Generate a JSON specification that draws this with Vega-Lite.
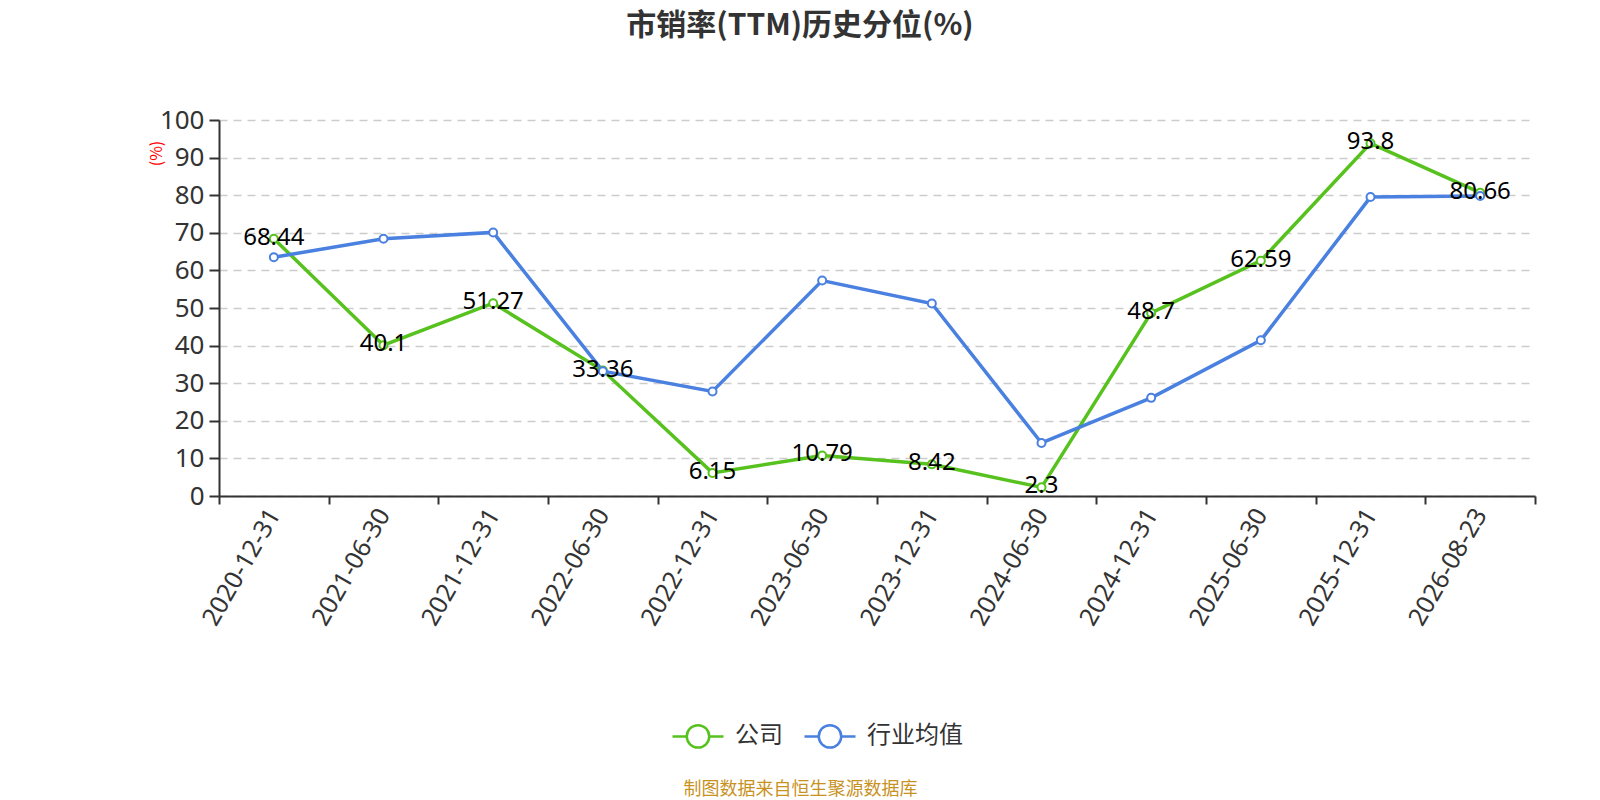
{
  "$schema": "https://vega.github.io/schema/vega-lite/v6.json",
  "autosize": "none",
  "width": 1316,
  "height": 376,
  "padding": {"left": 219, "top": 120, "right": 65, "bottom": 304},
  "background": "white",
  "config": {
    "font": "Noto Sans CJK SC",
    "view": {"stroke": null}
  },
  "title": {
    "text": "市销率(TTM)历史分位(%)",
    "fontSize": 30,
    "fontWeight": "bold",
    "color": "#333333",
    "anchor": "middle",
    "dx": -77,
    "offset": 66
  },
  "data": {
    "values": [
      {"date": "2020-12-31", "series": "公司", "value": 68.44},
      {"date": "2021-06-30", "series": "公司", "value": 40.1},
      {"date": "2021-12-31", "series": "公司", "value": 51.27},
      {"date": "2022-06-30", "series": "公司", "value": 33.36},
      {"date": "2022-12-31", "series": "公司", "value": 6.15},
      {"date": "2023-06-30", "series": "公司", "value": 10.79},
      {"date": "2023-12-31", "series": "公司", "value": 8.42},
      {"date": "2024-06-30", "series": "公司", "value": 2.3},
      {"date": "2024-12-31", "series": "公司", "value": 48.7},
      {"date": "2025-06-30", "series": "公司", "value": 62.59},
      {"date": "2025-12-31", "series": "公司", "value": 93.8},
      {"date": "2026-08-23", "series": "公司", "value": 80.66},
      {"date": "2020-12-31", "series": "行业均值", "value": 63.5},
      {"date": "2021-06-30", "series": "行业均值", "value": 68.4},
      {"date": "2021-12-31", "series": "行业均值", "value": 70.1},
      {"date": "2022-06-30", "series": "行业均值", "value": 33.2},
      {"date": "2022-12-31", "series": "行业均值", "value": 27.8},
      {"date": "2023-06-30", "series": "行业均值", "value": 57.3},
      {"date": "2023-12-31", "series": "行业均值", "value": 51.2},
      {"date": "2024-06-30", "series": "行业均值", "value": 14.1},
      {"date": "2024-12-31", "series": "行业均值", "value": 26.1},
      {"date": "2025-06-30", "series": "行业均值", "value": 41.4},
      {"date": "2025-12-31", "series": "行业均值", "value": 79.5},
      {"date": "2026-08-23", "series": "行业均值", "value": 79.8}
    ]
  },
  "encoding": {
    "x": {
      "field": "date",
      "type": "ordinal",
      "scale": {"type": "band", "paddingInner": 0, "paddingOuter": 0},
      "axis": {
        "title": "制图数据来自恒生聚源数据库",
        "titleColor": "#c8921f",
        "titleFontSize": 18,
        "titleFontWeight": "normal",
        "titleX": 581,
        "titleY": 293,
        "titleAnchor": "middle",
        "titleBaseline": "middle",
        "labelAngle": -60,
        "labelFont": "Noto Sans",
        "labelFontSize": 25,
        "labelColor": "#333333",
        "labelPadding": 6,
        "labelOverlap": false,
        "domainColor": "#333333",
        "domainWidth": 2,
        "tickColor": "#333333",
        "tickWidth": 2,
        "tickSize": 8,
        "tickBand": "extent",
        "grid": false
      }
    },
    "y": {
      "field": "value",
      "type": "quantitative",
      "scale": {"domain": [0, 100], "nice": false},
      "axis": {
        "title": "(%)",
        "titleColor": "red",
        "titleFontSize": 16,
        "titleFontWeight": "normal",
        "titleX": -63,
        "titleY": 33,
        "titleAngle": -90,
        "titleAnchor": "middle",
        "titleBaseline": "middle",
        "values": [0, 10, 20, 30, 40, 50, 60, 70, 80, 90, 100],
        "labelOverlap": false,
        "labelFont": "Noto Sans",
        "labelFontSize": 26,
        "labelColor": "#333333",
        "labelPadding": 5,
        "domainColor": "#333333",
        "domainWidth": 2,
        "tickColor": "#333333",
        "tickWidth": 2,
        "tickSize": 10,
        "gridColor": "#cccccc",
        "gridDash": [8, 6],
        "gridWidth": 1.5
      }
    }
  },
  "layer": [
    {
      "mark": {"type": "line", "strokeWidth": 3.5},
      "encoding": {
        "color": {
          "field": "series",
          "type": "nominal",
          "scale": {"domain": ["公司", "行业均值"], "range": ["#57c21e", "#4a80e0"]},
          "legend": {
            "title": null,
            "orient": "none",
            "legendX": 452,
            "legendY": 589,
            "direction": "horizontal",
            "columns": 2,
            "columnPadding": 16,
            "labelFontSize": 24,
            "labelColor": "#333333",
            "labelOffset": 10,
            "symbolType": "M-1,0H-0.44A0.44,0.44 0 1,1 0.44,0A0.44,0.44 0 1,1 -0.44,0M0.44,0H1",
            "symbolSize": 2600,
            "symbolStrokeWidth": 2.5,
            "symbolFillColor": "white"
          }
        }
      }
    },
    {
      "mark": {"type": "point", "filled": true, "fill": "white", "size": 64, "strokeWidth": 2, "opacity": 1},
      "encoding": {
        "stroke": {"field": "series", "type": "nominal", "scale": {"domain": ["公司", "行业均值"], "range": ["#57c21e", "#4a80e0"]}, "legend": null}
      }
    },
    {
      "transform": [{"filter": "datum.series === '公司'"}],
      "mark": {"type": "text", "fontSize": 24, "baseline": "middle", "dy": -1, "font": "Noto Sans", "color": "black"},
      "encoding": {
        "text": {"field": "value", "type": "quantitative"}
      }
    }
  ]
}
